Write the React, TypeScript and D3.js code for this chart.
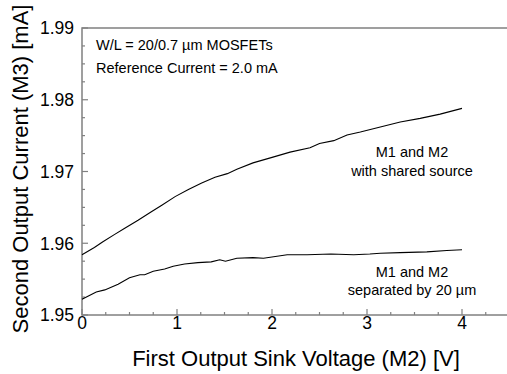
import * as d3 from "d3";
import { useEffect, useRef } from "react";

// Shared-source pair (upper curve)
const sharedV = [0, 0.13, 0.22, 0.34, 0.45, 0.59, 0.73, 0.84, 0.98, 1.12, 1.26, 1.4, 1.53, 1.63, 1.8, 2.01, 2.19, 2.4, 2.5, 2.65, 2.79, 2.93, 3.14, 3.35, 3.56, 3.77, 4.0];
const sharedI = [1.9584, 1.9594, 1.9602, 1.9612, 1.9621, 1.9632, 1.9644, 1.9653, 1.9665, 1.9675, 1.9684, 1.9692, 1.9697, 1.9703, 1.9712, 1.972, 1.9727, 1.9733, 1.9739, 1.9743, 1.9751, 1.9755, 1.9762, 1.9769, 1.9774, 1.978, 1.9788];

// Separated pair (lower curve)
const sepV = [0, 0.15, 0.24, 0.38, 0.5, 0.61, 0.66, 0.75, 0.87, 0.96, 1.08, 1.22, 1.36, 1.45, 1.51, 1.63, 1.8, 1.91, 2.16, 2.37, 2.62, 2.86, 3.03, 3.14, 3.35, 3.63, 3.84, 4.0];
const sepI = [1.9522, 1.9532, 1.9535, 1.9543, 1.9552, 1.9556, 1.9556, 1.9561, 1.9564, 1.9568, 1.9571, 1.9573, 1.9574, 1.9577, 1.9575, 1.9579, 1.958, 1.9579, 1.9584, 1.9584, 1.9585, 1.9584, 1.9585, 1.9586, 1.9587, 1.9588, 1.959, 1.9591];

const xTicks = [0, 1, 2, 3, 4];
const yTicks = [1.95, 1.96, 1.97, 1.98, 1.99];

export default function App() {
  const svgRef = useRef<SVGSVGElement>(null);
  const w = 507;
  const h = 374;
  const margin = { top: 28, left: 82, bottom: 59 };

  useEffect(() => {
    if (!svgRef.current) return;
    const svg = d3.select(svgRef.current);
    svg.selectAll("*").remove();
    const font = "'Liberation Sans', Arial, sans-serif";
    const axisColor = "#808080";

    const x = d3.scaleLinear().domain([0, 4.5]).range([margin.left, margin.left + 4.5 * 95]);
    const y = d3.scaleLinear().domain([1.95, 1.99]).range([h - margin.bottom, margin.top]);

    // frame (right side falls outside the window)
    svg.append("rect")
      .attr("x", x(0))
      .attr("y", y(1.99))
      .attr("width", x(4.5) - x(0))
      .attr("height", y(1.95) - y(1.99))
      .attr("fill", "none")
      .attr("stroke", axisColor)
      .attr("stroke-width", 1.5);

    // x ticks: minor every 0.25, major every 1
    d3.range(0, 4.51, 0.25).forEach((t) => {
      const major = Math.abs(t - Math.round(t)) < 1e-6;
      svg.append("line")
        .attr("x1", x(t)).attr("x2", x(t))
        .attr("y1", y(1.95)).attr("y2", y(1.95) - (major ? 6 : 3))
        .attr("stroke", axisColor).attr("stroke-width", 1.2);
    });
    xTicks.forEach((t) => {
      svg.append("text")
        .attr("x", x(t)).attr("y", 329)
        .attr("text-anchor", "middle")
        .attr("font-family", font).attr("font-size", 17.5)
        .text(t);
    });

    // y ticks: minor every 0.0025
    d3.range(0, 17).forEach((i) => {
      const v = 1.95 + i * 0.0025;
      const major = i % 4 === 0;
      svg.append("line")
        .attr("x1", x(0)).attr("x2", x(0) + (major ? 6 : 3))
        .attr("y1", y(v)).attr("y2", y(v))
        .attr("stroke", axisColor).attr("stroke-width", 1.2);
    });
    yTicks.forEach((t) => {
      svg.append("text")
        .attr("x", 74).attr("y", y(t))
        .attr("dy", "0.36em")
        .attr("text-anchor", "end")
        .attr("font-family", font).attr("font-size", 17.5)
        .text(t.toFixed(2));
    });

    const line = d3.line<[number, number]>()
      .x((d) => x(d[0]))
      .y((d) => y(d[1]));

    [
      sharedV.map((v, i) => [v, sharedI[i]] as [number, number]),
      sepV.map((v, i) => [v, sepI[i]] as [number, number]),
    ].forEach((pts) => {
      svg.append("path")
        .attr("d", line(pts))
        .attr("fill", "none")
        .attr("stroke", "#000")
        .attr("stroke-width", 1.1);
    });

    // annotations
    const note = (tx: number, ty: number, s: string, anchor = "start") =>
      svg.append("text")
        .attr("x", tx).attr("y", ty)
        .attr("text-anchor", anchor)
        .attr("font-family", font).attr("font-size", 14.5)
        .text(s);
    note(96, 50, "W/L = 20/0.7 µm MOSFETs");
    note(96, 73, "Reference Current = 2.0 mA");
    note(412, 157, "M1 and M2", "middle");
    note(412, 176, "with shared source", "middle");
    note(412, 277, "M1 and M2", "middle");
    note(412, 295, "separated by 20 µm", "middle");

    // axis titles
    svg.append("text")
      .attr("x", 296).attr("y", 366)
      .attr("text-anchor", "middle")
      .attr("font-family", font).attr("font-size", 22)
      .text("First Output Sink Voltage (M2) [V]");
    svg.append("text")
      .attr("transform", `translate(28,169) rotate(-90)`)
      .attr("text-anchor", "middle")
      .attr("font-family", font).attr("font-size", 22)
      .text("Second Output Current (M3) [mA]");
  }, []);

  return (
    <svg
      ref={svgRef}
      width={w}
      height={h}
      viewBox={`0 0 ${w} ${h}`}
      style={{ position: "absolute", left: 0, top: 0, background: "#fff" }}
    />
  );
}
